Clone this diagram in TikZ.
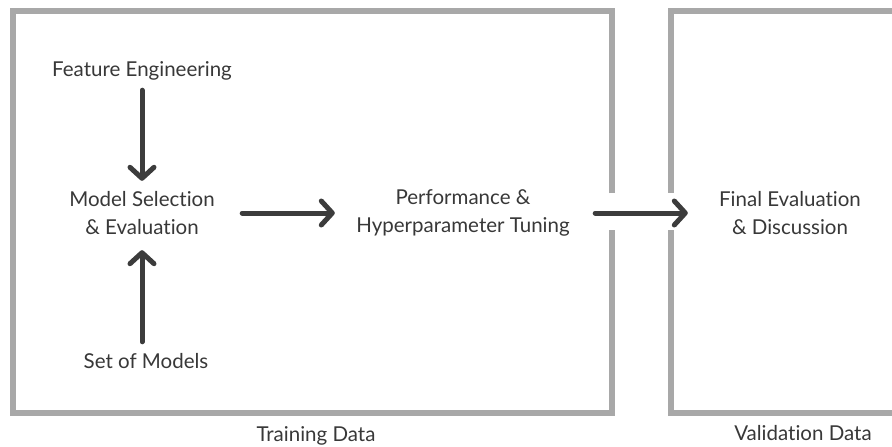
\documentclass[tikz,border=0pt]{standalone}
\usepackage{fontspec}
\setmainfont{Lato}[Ligatures={NoCommon}]
\usetikzlibrary{arrows.meta}
\definecolor{boxgray}{HTML}{A8A8A8}
\definecolor{arrgray}{HTML}{3C3C3C}
\definecolor{txtgray}{HTML}{383838}
\begin{document}
\begin{tikzpicture}[x=1pt,y=-1pt,
  lbl/.style={font=\fontsize{20.5}{28}\selectfont, text=txtgray, inner sep=0pt, align=center},
  frame/.style={draw=boxgray, line width=6pt, line cap=butt, line join=miter},
  arr/.style={draw=arrgray, line width=5pt, line cap=round,
    -{Straight Barb[round, length=11pt, width=24pt]}}]
\useasboundingbox[fill=white] (0,0) rectangle (892,447);
% frames
\draw[frame] (612,193) -- (612,11) -- (13,11) -- (13,413) -- (612,413) -- (612,230);
\draw[frame] (900,11) -- (671,11) -- (671,193);
\draw[frame] (671,230) -- (671,413) -- (900,413);
% nodes
\node[lbl, minimum height=38pt] (fe) at (142,71) {Feature Engineering};
\node[lbl, minimum height=64pt, minimum width=200pt] (ms) at (142,213) {Model Selection\\\& Evaluation};
\node[lbl, minimum height=38pt] (sm) at (146,361) {Set of Models};
\node[lbl, minimum width=256pt] (perf) at (463,213) {Performance \&\\Hyperparameter Tuning};
\node[lbl, minimum width=204pt] (fin) at (790,213) {Final Evaluation\\\& Discussion};
\node[lbl] (train) at (316,436) {Training Data};
\node[lbl] (valid) at (803,433) {Validation Data};
% connectors
\draw[arr] (fe.south) -- (ms.north);
\draw[arr, shorten >=5pt] (sm.north -| ms.south) -- (ms.south);
\draw[arr] (ms.east) -- (perf.west);
\draw[arr, shorten <=4pt] (perf.east) -- (fin.west);
\end{tikzpicture}
\end{document}
